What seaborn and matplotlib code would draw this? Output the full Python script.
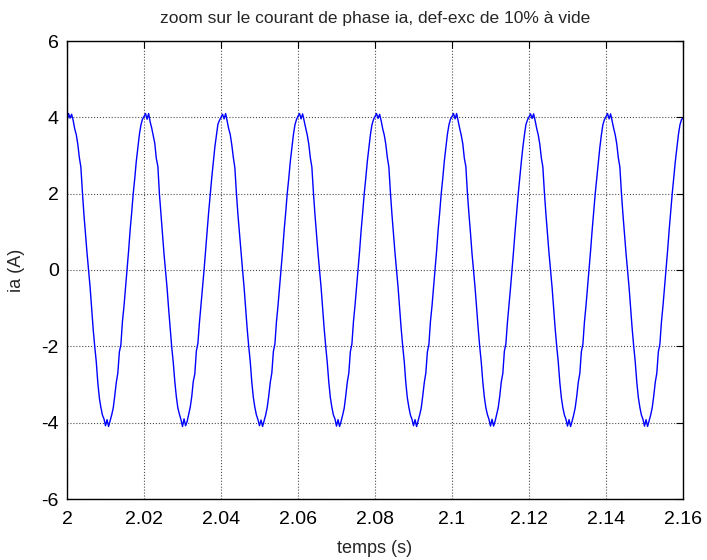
import numpy as np
import matplotlib
matplotlib.use("Agg")
import matplotlib.pyplot as plt
from matplotlib.ticker import FormatStrFormatter
import seaborn as sns

# Phase current ia sampled every 0.4 ms, one list per 20 ms period
ia_p1 = [3.90, 4.10, 3.98, 4.08, 3.92, 3.70, 3.55, 3.30, 2.95, 2.70,
         2.05, 1.45, 0.95, 0.45, 0.00, -0.45, -1.00, -1.55, -2.00, -2.40,
         -2.95, -3.35, -3.60, -3.80, -3.90, -4.08, -3.92, -4.10, -3.95, -3.80,
         -3.62, -3.30, -2.95, -2.70, -2.15, -1.95, -1.35, -0.95, -0.45, 0.02,
         0.50, 1.05, 1.50, 2.00, 2.40, 2.85, 3.20, 3.55, 3.80, 3.95]
ia_p2 = [4.02, 4.10, 3.95, 4.10, 3.88, 3.72, 3.52, 3.32, 2.92, 2.72,
         2.00, 1.48, 0.98, 0.42, -0.02, -0.48, -1.02, -1.52, -2.02, -2.42,
         -2.92, -3.32, -3.62, -3.78, -3.92, -4.10, -3.90, -4.08, -3.97, -3.78,
         -3.60, -3.32, -2.92, -2.72, -2.12, -1.92, -1.38, -0.92, -0.48, 0.00,
         0.52, 1.02, 1.52, 1.98, 2.42, 2.82, 3.22, 3.52, 3.82, 3.92]
ia_p3 = [4.00, 4.08, 3.96, 4.10, 3.90, 3.70, 3.55, 3.28, 2.95, 2.68,
         2.02, 1.45, 0.96, 0.44, 0.00, -0.46, -1.00, -1.54, -2.00, -2.40,
         -2.94, -3.34, -3.60, -3.80, -3.92, -4.08, -3.93, -4.10, -3.95, -3.80,
         -3.60, -3.30, -2.94, -2.70, -2.14, -1.94, -1.36, -0.94, -0.46, 0.02,
         0.50, 1.04, 1.50, 2.00, 2.40, 2.84, 3.20, 3.54, 3.80, 3.94]
ia_p4 = [4.03, 4.10, 3.96, 4.09, 3.90, 3.72, 3.54, 3.30, 2.94, 2.70,
         2.04, 1.46, 0.96, 0.44, 0.00, -0.46, -1.02, -1.54, -2.00, -2.42,
         -2.94, -3.34, -3.60, -3.80, -3.90, -4.09, -3.92, -4.10, -3.96, -3.80,
         -3.62, -3.30, -2.94, -2.70, -2.14, -1.94, -1.36, -0.94, -0.46, 0.02,
         0.50, 1.04, 1.50, 2.00, 2.40, 2.84, 3.20, 3.54, 3.80, 3.94]
ia_p5 = [4.02, 4.10, 3.97, 4.08, 3.91, 3.70, 3.54, 3.30, 2.95, 2.70,
         2.04, 1.46, 0.96, 0.44, 0.00, -0.46, -1.00, -1.54, -2.00, -2.40,
         -2.95, -3.35, -3.60, -3.80, -3.91, -4.08, -3.92, -4.10, -3.95, -3.80,
         -3.62, -3.30, -2.95, -2.70, -2.15, -1.95, -1.35, -0.95, -0.45, 0.02,
         0.50, 1.05, 1.50, 2.00, 2.40, 2.85, 3.20, 3.55, 3.80, 3.95]
ia_p6 = [4.02, 4.10, 3.96, 4.10, 3.90, 3.71, 3.53, 3.31, 2.93, 2.71,
         2.02, 1.47, 0.97, 0.43, -0.01, -0.47, -1.01, -1.53, -2.01, -2.41,
         -2.93, -3.33, -3.61, -3.79, -3.91, -4.09, -3.91, -4.09, -3.96, -3.79,
         -3.61, -3.31, -2.93, -2.71, -2.13, -1.93, -1.37, -0.93, -0.47, 0.01,
         0.51, 1.03, 1.51, 1.99, 2.41, 2.83, 3.21, 3.53, 3.81, 3.93]
ia_p7 = [4.01, 4.09, 3.97, 4.09, 3.91, 3.71, 3.54, 3.30, 2.94, 2.70,
         2.03, 1.46, 0.96, 0.44, 0.00, -0.46, -1.01, -1.54, -2.00, -2.41,
         -2.94, -3.34, -3.61, -3.80, -3.91, -4.09, -3.92, -4.10, -3.96, -3.80,
         -3.61, -3.31, -2.94, -2.71, -2.14, -1.94, -1.36, -0.94, -0.46, 0.01,
         0.51, 1.04, 1.51, 2.00, 2.41, 2.84, 3.21, 3.54, 3.81, 3.94]
ia_p8 = [4.02, 4.10, 3.96, 4.09, 3.90, 3.71, 3.54, 3.30, 2.94, 2.70,
         2.03, 1.46, 0.96, 0.44, 0.00, -0.46, -1.01, -1.54, -2.00, -2.41,
         -2.94, -3.34, -3.60, -3.80, -3.91, -4.09, -3.92, -4.10, -3.95, -3.80,
         -3.61, -3.30, -2.94, -2.70, -2.14, -1.94, -1.36, -0.94, -0.46, 0.01,
         0.51, 1.04, 1.51, 2.00, 2.41, 2.84, 3.20, 3.54, 3.80, 3.94]
ia_end = [3.98]

t_start, t_stop = 2.0, 2.16
x_ticks = [2.0, 2.02, 2.04, 2.06, 2.08, 2.1, 2.12, 2.14, 2.16]
y_ticks = [-6, -4, -2, 0, 2, 4, 6]

title_txt = "zoom sur le courant de phase ia, def-exc de 10% à vide"
xlabel_txt = "temps (s)"
ylabel_txt = "ia (A)"

ia = np.concatenate([ia_p1, ia_p2, ia_p3, ia_p4, ia_p5, ia_p6, ia_p7, ia_p8, ia_end])
temps = np.linspace(t_start, t_stop, len(ia))

sns.set_theme(style="white")
plt.rcParams["font.family"] = ["Liberation Sans", "DejaVu Sans"]
plt.rcParams["axes.unicode_minus"] = False

fig = plt.figure(figsize=(7.07, 5.60), dpi=100)
ax = fig.add_axes([67 / 707, 1 - 499 / 560, (683 - 67) / 707, (499 - 41) / 560])

sns.lineplot(x=temps, y=ia, ax=ax, color="#0000ff", linewidth=1.0,
             estimator=None, sort=False)

ax.set_xlim(t_start, t_stop)
ax.set_ylim(-6, 6)
ax.set_xticks(x_ticks)
ax.set_yticks(y_ticks)
ax.xaxis.set_major_formatter(FormatStrFormatter("%g"))
ax.yaxis.set_major_formatter(FormatStrFormatter("%g"))

ax.grid(True, linestyle=":", color="0.3", linewidth=0.8)
for s in ax.spines.values():
    s.set_color("black")
    s.set_linewidth(1.0)
ax.tick_params(direction="in", length=5, width=0.8, top=True, right=True,
               labelsize=14, colors="black")
ax.tick_params(axis="x", pad=9)
ax.tick_params(axis="y", pad=6)

ax.set_title(title_txt, fontsize=12.5, pad=13)
ax.set_xlabel(xlabel_txt, fontsize=13, labelpad=8)
ax.set_ylabel(ylabel_txt, fontsize=13, labelpad=12)

fig.savefig("out.png", dpi=100, facecolor="white")
